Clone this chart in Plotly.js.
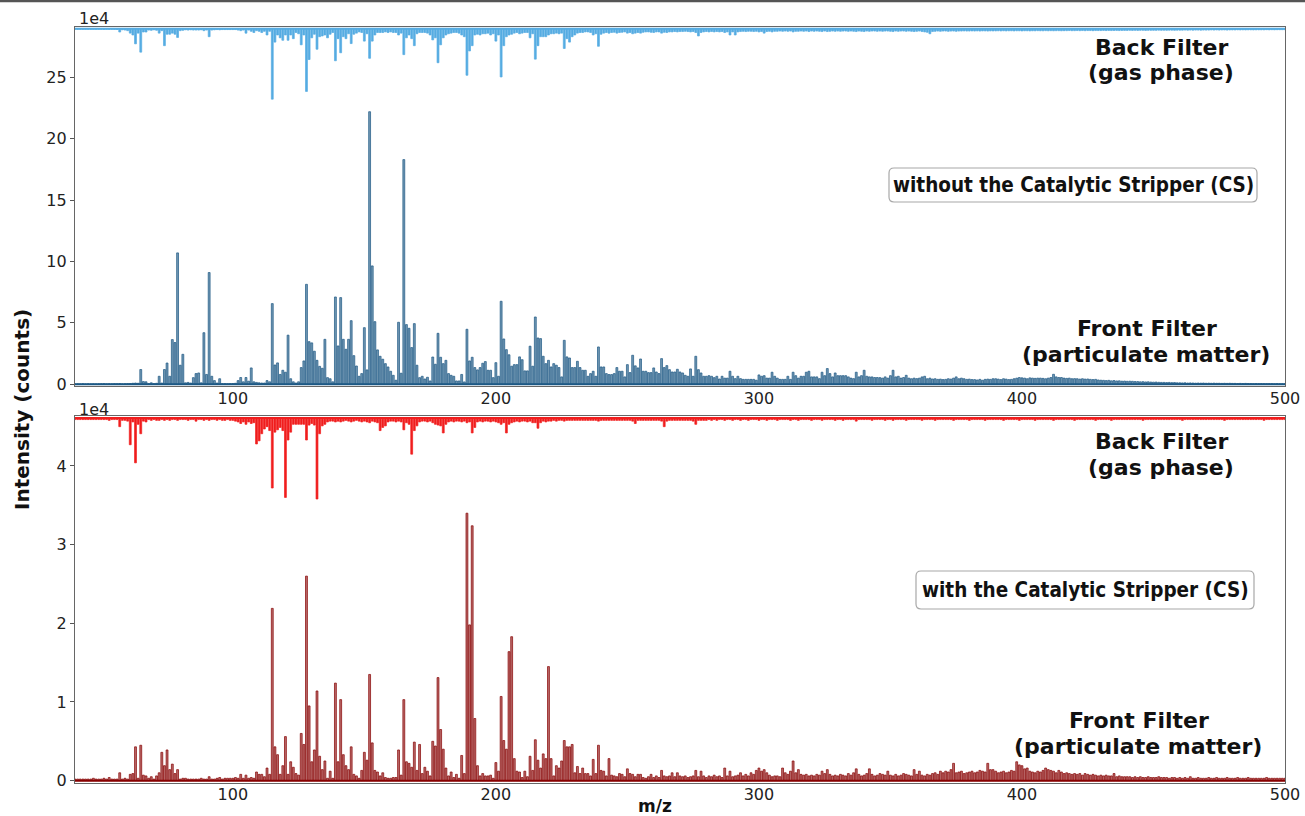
<!DOCTYPE html>
<html>
<head>
<meta charset="utf-8">
<script src="https://cdn.plot.ly/plotly-3.0.1.min.js"></script>
<style>
html,body{margin:0;padding:0;background:#fff;}
#chart{width:1305px;height:816px;}
</style>
</head>
<body>
<div id="chart"></div>
<script>
// m/z axis: integer masses starting at mzStart, one value per unit mass
const mzStart = 40;
const mzEnd = 500;

// Without CS - Front Filter (particulate matter), units of 1e4 counts, m/z 40..500
const withoutFront = [
0.02,0.03,0.02,0.04,0.02,0.03,0.02,0.03,0.02,0.03,
0.04,0.05,0.03,0.04,0.03,0.05,0.04,0.06,0.03,0.04,
0.05,0.06,0.08,0.10,0.08,1.20,0.22,0.20,0.05,0.12,
0.05,0.08,0.65,0.10,1.20,1.73,0.65,3.64,3.40,10.7,
1.55,2.44,0.12,0.15,0.10,0.54,0.87,0.92,0.12,4.20,
0.80,9.10,0.65,0.30,0.10,0.45,0.05,0.05,0.04,0.05,
0.06,0.08,0.30,0.55,0.20,0.55,0.25,1.33,0.20,0.15,
0.12,0.10,0.10,0.30,0.20,6.57,1.57,1.74,0.80,1.14,
0.98,4.00,0.45,0.20,0.10,0.20,1.36,1.90,8.14,3.47,
3.37,2.69,1.95,1.46,1.30,3.66,0.54,0.45,0.20,7.11,
3.12,7.06,3.66,2.85,3.66,5.18,2.33,1.49,0.65,0.87,
4.61,1.17,22.2,9.64,5.10,2.80,2.28,2.04,1.68,1.41,
1.06,0.73,0.33,5.05,0.90,18.3,4.86,4.56,2.99,4.94,
1.55,0.54,0.65,0.43,0.57,0.27,2.22,1.63,4.15,2.20,
1.68,1.95,0.87,0.73,0.65,0.27,0.27,0.80,0.19,4.48,
1.90,2.20,1.36,1.17,1.36,1.71,1.85,1.14,1.14,0.54,
1.76,0.65,6.76,3.69,2.82,2.40,1.47,1.60,1.60,2.23,
2.00,1.09,1.09,3.10,1.47,5.48,3.77,3.72,2.28,1.68,
1.95,1.41,1.68,1.55,1.36,0.60,3.58,2.23,2.14,1.36,
1.36,1.87,1.36,1.14,1.14,0.65,0.87,1.06,0.65,3.04,
1.41,1.41,0.87,0.79,0.79,0.87,1.36,1.06,1.06,0.60,
1.60,0.95,2.36,1.50,1.33,2.06,1.06,1.06,0.95,0.95,
1.33,1.00,0.87,2.09,1.36,1.52,1.19,1.00,1.00,1.22,
1.00,0.92,0.73,0.65,1.25,0.65,2.28,1.19,0.92,0.65,
0.65,0.70,0.65,0.54,0.65,0.43,0.65,0.50,0.50,1.06,
0.65,0.46,0.65,0.46,0.40,0.40,0.40,0.40,0.40,0.33,
0.76,0.65,0.70,0.50,0.50,0.98,0.65,0.50,0.40,0.40,
0.40,0.65,0.40,0.98,0.70,0.50,0.65,0.65,0.98,1.06,
0.60,0.60,0.60,0.46,0.98,0.70,1.28,0.87,0.60,0.92,
0.70,0.70,0.70,0.70,0.60,0.50,0.46,0.98,0.60,0.70,
1.14,0.65,0.60,0.60,0.55,0.55,0.54,0.50,0.60,0.50,
0.70,1.14,0.60,0.65,0.50,0.55,0.73,0.50,0.45,0.50,
0.46,0.50,0.60,0.65,0.45,0.50,0.43,0.45,0.40,0.42,
0.38,0.40,0.45,0.42,0.50,0.60,0.45,0.50,0.45,0.40,
0.42,0.38,0.38,0.35,0.40,0.33,0.40,0.42,0.40,0.45,
0.45,0.42,0.38,0.45,0.42,0.38,0.40,0.45,0.50,0.55,
0.52,0.50,0.45,0.52,0.50,0.48,0.50,0.50,0.48,0.45,
0.50,0.55,0.81,0.60,0.55,0.55,0.50,0.48,0.50,0.45,
0.46,0.45,0.42,0.45,0.42,0.43,0.40,0.38,0.40,0.35,
0.33,0.32,0.30,0.32,0.28,0.30,0.27,0.28,0.25,0.26,
0.24,0.25,0.24,0.22,0.22,0.20,0.21,0.19,0.20,0.18,
0.17,0.18,0.16,0.15,0.15,0.14,0.15,0.13,0.14,0.12,
0.12,0.11,0.12,0.10,0.11,0.10,0.09,0.10,0.09,0.10,
0.08,0.09,0.08,0.09,0.08,0.08,0.07,0.08,0.07,0.08,
0.07,0.07,0.06,0.07,0.06,0.07,0.06,0.06,0.05,0.06,
0.05,0.06,0.05,0.05,0.05,0.05,0.04,0.05,0.04,0.04,
0.04
];

// Without CS - Back Filter (gas phase), drawn hanging from the top
const withoutBack = [
0.03,0.03,0.03,0.03,0.03,0.03,0.03,0.03,0.03,0.03,
0.03,0.04,0.03,0.04,0.03,0.04,0.05,0.26,0.08,0.10,
0.15,0.35,0.50,1.22,0.35,1.90,0.26,0.26,0.10,0.12,
0.08,0.12,0.35,0.15,1.37,0.44,0.44,0.35,0.44,0.70,
0.15,0.12,0.08,0.10,0.08,0.10,0.10,0.10,0.08,0.15,
0.10,0.64,0.10,0.08,0.06,0.08,0.06,0.06,0.06,0.06,
0.06,0.06,0.10,0.15,0.10,0.35,0.10,0.20,0.30,0.15,
0.20,0.30,0.20,0.50,0.20,5.73,1.08,0.50,0.73,0.93,
0.50,0.93,0.50,0.80,0.30,0.40,1.30,0.50,5.10,2.50,
0.73,0.44,1.66,0.64,0.58,0.50,0.73,0.44,0.30,2.60,
0.80,1.95,0.64,0.80,0.40,1.20,0.44,0.35,0.25,0.30,
1.00,0.40,2.40,1.00,0.50,0.30,0.30,0.30,0.25,0.30,
0.25,0.30,0.30,0.50,0.35,2.10,0.73,0.50,0.80,1.37,
0.40,0.30,0.30,0.30,0.35,0.50,0.90,0.73,2.76,1.30,
0.73,0.50,0.40,0.35,0.30,0.30,0.35,0.50,0.64,3.78,
1.80,1.37,0.50,0.44,0.50,0.40,0.40,0.35,0.50,0.40,
1.00,0.50,3.92,1.37,0.64,0.50,0.44,0.35,0.30,0.40,
0.35,0.30,0.30,0.73,0.40,2.47,1.37,0.64,0.64,0.64,
0.50,0.40,0.40,0.35,0.40,0.35,1.60,0.80,1.08,0.64,
0.50,0.35,0.30,0.30,0.25,0.25,0.30,0.50,0.40,1.42,
0.44,0.35,0.30,0.35,0.30,0.28,0.35,0.30,0.28,0.25,
0.35,0.30,0.40,0.35,0.30,0.35,0.28,0.25,0.25,0.28,
0.30,0.25,0.25,0.35,0.28,0.30,0.25,0.25,0.22,0.25,
0.22,0.22,0.20,0.22,0.25,0.22,0.30,0.58,0.30,0.25,
0.22,0.25,0.22,0.25,0.22,0.25,0.22,0.30,0.25,0.50,
0.25,0.50,0.25,0.22,0.20,0.22,0.20,0.20,0.22,0.20,
0.25,0.22,0.35,0.22,0.20,0.25,0.20,0.20,0.18,0.20,
0.18,0.20,0.18,0.25,0.20,0.20,0.18,0.20,0.18,0.22,
0.18,0.20,0.18,0.20,0.22,0.18,0.22,0.20,0.18,0.20,
0.18,0.20,0.18,0.18,0.20,0.18,0.20,0.22,0.18,0.20,
0.22,0.18,0.20,0.18,0.18,0.20,0.18,0.20,0.18,0.18,
0.20,0.22,0.18,0.20,0.18,0.18,0.20,0.18,0.20,0.22,
0.20,0.18,0.22,0.25,0.28,0.40,0.22,0.20,0.18,0.20,
0.18,0.18,0.20,0.18,0.18,0.20,0.18,0.18,0.17,0.18,
0.18,0.17,0.18,0.17,0.18,0.17,0.17,0.18,0.17,0.17,
0.17,0.16,0.17,0.16,0.17,0.16,0.16,0.17,0.16,0.16,
0.17,0.16,0.16,0.17,0.16,0.16,0.15,0.16,0.16,0.15,
0.16,0.15,0.16,0.15,0.15,0.16,0.15,0.15,0.14,0.15,
0.15,0.14,0.15,0.14,0.15,0.14,0.14,0.15,0.14,0.14,
0.14,0.13,0.14,0.13,0.14,0.13,0.13,0.14,0.13,0.13,
0.13,0.12,0.13,0.12,0.13,0.12,0.12,0.13,0.12,0.12,
0.12,0.12,0.11,0.12,0.11,0.12,0.11,0.11,0.12,0.11,
0.11,0.11,0.10,0.11,0.10,0.11,0.10,0.10,0.11,0.10,
0.10,0.10,0.09,0.10,0.09,0.10,0.09,0.09,0.10,0.09,
0.09,0.09,0.08,0.09,0.08,0.09,0.08,0.08,0.09,0.08,
0.08,0.08,0.08,0.07,0.08,0.07,0.08,0.07,0.07,0.07,
0.07
];

// With CS - Front Filter (particulate matter)
const withFront = [
0.02,0.02,0.02,0.02,0.02,0.02,0.02,0.03,0.02,0.02,
0.02,0.03,0.02,0.04,0.02,0.02,0.02,0.10,0.02,0.03,
0.02,0.08,0.09,0.43,0.03,0.45,0.07,0.06,0.03,0.05,
0.02,0.06,0.10,0.36,0.19,0.39,0.14,0.21,0.09,0.14,
0.02,0.03,0.03,0.02,0.02,0.02,0.02,0.02,0.03,0.02,
0.02,0.05,0.02,0.02,0.03,0.04,0.02,0.03,0.03,0.03,
0.03,0.04,0.03,0.08,0.03,0.07,0.03,0.04,0.03,0.11,
0.08,0.08,0.05,0.16,0.08,2.19,0.43,0.33,0.08,0.19,
0.56,0.08,0.24,0.17,0.09,0.07,0.60,0.46,2.60,0.95,
0.24,0.39,1.14,0.31,0.14,0.25,0.03,0.12,0.03,1.24,
0.24,1.03,0.33,0.19,0.14,0.43,0.08,0.06,0.03,0.13,
0.36,0.26,1.35,0.48,0.13,0.11,0.06,0.10,0.04,0.03,
0.03,0.04,0.04,0.39,0.07,1.03,0.24,0.22,0.17,0.49,
0.13,0.46,0.09,0.17,0.12,0.06,0.50,0.44,1.31,0.65,
0.40,0.16,0.06,0.11,0.04,0.08,0.03,0.32,0.09,3.40,
1.98,3.24,0.79,0.19,0.06,0.09,0.06,0.06,0.07,0.03,
0.23,0.12,1.07,0.51,0.40,1.64,1.83,0.28,0.12,0.11,
0.04,0.12,0.05,0.31,0.13,0.52,0.26,0.16,0.34,0.28,
1.45,0.28,0.06,0.19,0.16,0.25,0.51,0.43,0.43,0.46,
0.10,0.18,0.09,0.16,0.09,0.09,0.06,0.27,0.09,0.45,
0.13,0.12,0.06,0.28,0.07,0.06,0.05,0.09,0.08,0.05,
0.15,0.09,0.08,0.05,0.08,0.08,0.04,0.03,0.05,0.08,
0.04,0.06,0.04,0.13,0.06,0.05,0.06,0.10,0.05,0.10,
0.06,0.05,0.06,0.04,0.05,0.06,0.13,0.05,0.12,0.06,
0.04,0.06,0.05,0.07,0.05,0.06,0.04,0.16,0.06,0.12,
0.05,0.06,0.07,0.10,0.06,0.08,0.06,0.10,0.08,0.13,
0.16,0.12,0.14,0.10,0.07,0.05,0.06,0.06,0.05,0.16,
0.10,0.08,0.12,0.25,0.10,0.14,0.08,0.07,0.08,0.06,
0.07,0.06,0.08,0.07,0.12,0.09,0.14,0.08,0.06,0.07,
0.06,0.08,0.07,0.06,0.09,0.07,0.10,0.15,0.08,0.06,
0.07,0.09,0.15,0.08,0.06,0.07,0.09,0.08,0.07,0.12,
0.07,0.06,0.08,0.06,0.07,0.09,0.08,0.07,0.06,0.14,
0.08,0.12,0.07,0.06,0.08,0.07,0.09,0.10,0.08,0.12,
0.10,0.12,0.11,0.14,0.22,0.10,0.11,0.12,0.09,0.10,
0.11,0.12,0.10,0.11,0.13,0.12,0.11,0.22,0.14,0.14,
0.12,0.10,0.11,0.12,0.10,0.11,0.13,0.12,0.24,0.20,
0.19,0.15,0.16,0.12,0.11,0.10,0.12,0.11,0.13,0.16,
0.14,0.13,0.12,0.10,0.13,0.11,0.09,0.10,0.09,0.08,
0.09,0.08,0.09,0.07,0.09,0.08,0.07,0.08,0.07,0.06,
0.07,0.06,0.07,0.06,0.06,0.09,0.05,0.06,0.05,0.05,
0.05,0.05,0.04,0.05,0.04,0.05,0.04,0.04,0.05,0.04,
0.04,0.04,0.05,0.04,0.04,0.04,0.03,0.04,0.04,0.03,
0.04,0.03,0.04,0.03,0.05,0.03,0.03,0.04,0.03,0.03,
0.03,0.04,0.03,0.03,0.04,0.03,0.03,0.03,0.04,0.03,
0.03,0.03,0.04,0.03,0.03,0.03,0.04,0.03,0.03,0.03,
0.03,0.03,0.03,0.04,0.03,0.03,0.03,0.03,0.03,0.03,
0.03
];

// With CS - Back Filter (gas phase), drawn hanging from the top
const withBack = [
0.02,0.02,0.02,0.02,0.02,0.02,0.02,0.02,0.02,0.02,
0.02,0.02,0.02,0.03,0.02,0.02,0.02,0.11,0.03,0.03,
0.04,0.34,0.05,0.57,0.08,0.20,0.04,0.05,0.02,0.03,
0.02,0.03,0.03,0.02,0.03,0.02,0.03,0.02,0.02,0.03,
0.02,0.02,0.02,0.03,0.02,0.02,0.04,0.02,0.02,0.03,
0.02,0.03,0.02,0.02,0.03,0.02,0.03,0.03,0.02,0.03,
0.03,0.04,0.05,0.07,0.05,0.08,0.05,0.07,0.06,0.33,
0.29,0.20,0.14,0.11,0.16,0.89,0.18,0.15,0.12,0.16,
1.01,0.28,0.18,0.08,0.08,0.08,0.08,0.08,0.28,0.09,
0.07,0.09,1.03,0.20,0.10,0.08,0.05,0.04,0.04,0.05,
0.04,0.05,0.04,0.03,0.04,0.05,0.04,0.03,0.04,0.05,
0.04,0.05,0.06,0.04,0.05,0.06,0.16,0.12,0.10,0.05,
0.04,0.04,0.05,0.04,0.05,0.15,0.06,0.08,0.46,0.16,
0.10,0.05,0.04,0.04,0.05,0.04,0.06,0.08,0.09,0.10,
0.19,0.08,0.05,0.04,0.05,0.04,0.04,0.05,0.04,0.06,
0.05,0.19,0.12,0.05,0.04,0.05,0.04,0.04,0.05,0.04,
0.05,0.06,0.08,0.06,0.19,0.08,0.06,0.05,0.04,0.05,
0.04,0.04,0.05,0.04,0.06,0.06,0.13,0.06,0.04,0.05,
0.04,0.04,0.03,0.04,0.03,0.03,0.04,0.03,0.03,0.03,
0.03,0.03,0.03,0.03,0.03,0.03,0.03,0.03,0.03,0.04,
0.03,0.03,0.03,0.03,0.03,0.03,0.03,0.03,0.03,0.03,
0.03,0.03,0.04,0.07,0.03,0.03,0.03,0.03,0.03,0.03,
0.03,0.03,0.03,0.04,0.11,0.04,0.03,0.03,0.03,0.03,
0.03,0.03,0.03,0.03,0.03,0.04,0.08,0.03,0.03,0.03,
0.03,0.02,0.03,0.02,0.03,0.02,0.02,0.03,0.02,0.02,
0.03,0.02,0.02,0.03,0.02,0.02,0.03,0.02,0.02,0.02,
0.03,0.02,0.02,0.03,0.02,0.02,0.02,0.03,0.02,0.02,
0.02,0.02,0.03,0.02,0.02,0.03,0.02,0.02,0.02,0.02,
0.03,0.02,0.02,0.02,0.03,0.02,0.02,0.02,0.02,0.03,
0.02,0.02,0.03,0.02,0.02,0.02,0.02,0.04,0.02,0.02,
0.02,0.02,0.02,0.03,0.02,0.02,0.02,0.02,0.03,0.02,
0.02,0.03,0.02,0.02,0.02,0.02,0.03,0.02,0.02,0.02,
0.02,0.02,0.03,0.02,0.02,0.02,0.02,0.03,0.02,0.02,
0.02,0.02,0.02,0.02,0.03,0.02,0.02,0.02,0.02,0.02,
0.03,0.02,0.02,0.02,0.02,0.02,0.03,0.02,0.02,0.02,
0.02,0.02,0.02,0.03,0.02,0.02,0.02,0.02,0.02,0.03,
0.02,0.02,0.02,0.02,0.02,0.03,0.02,0.02,0.02,0.02,
0.02,0.02,0.03,0.02,0.02,0.02,0.02,0.02,0.02,0.02,
0.03,0.02,0.02,0.02,0.02,0.02,0.02,0.02,0.03,0.02,
0.02,0.02,0.02,0.02,0.03,0.02,0.02,0.02,0.02,0.02,
0.02,0.02,0.02,0.02,0.02,0.02,0.03,0.02,0.02,0.02,
0.02,0.02,0.02,0.02,0.02,0.02,0.02,0.02,0.02,0.02,
0.02,0.03,0.02,0.02,0.02,0.02,0.02,0.02,0.02,0.02,
0.02,0.02,0.02,0.02,0.02,0.02,0.02,0.03,0.02,0.02,
0.02,0.02,0.02,0.02,0.02,0.02,0.02,0.02,0.02,0.02,
0.02,0.02,0.03,0.02,0.02,0.02,0.02,0.02,0.02,0.02,
0.02
];

// Back-filter spectra hang from these levels (units of 1e4)
const topBackLevel = 28.95;
const bottomBackLevel = 4.61;

const xTicks = [100, 200, 300, 400, 500];
const yTicksTop = [0, 5, 10, 15, 20, 25];
const yTicksBottom = [0, 1, 2, 3, 4];

const cDarkBlue = 'rgb(28,88,132)';
const cLightBlue = 'rgb(86,172,226)';
const cDarkRed = 'rgb(135,0,0)';
const cRed = 'rgb(240,30,30)';

function barTrace(vals, xa, ya, fill, edge, baseLevel) {
  const t = {
    type: 'bar', x0: mzStart, dx: 1,
    y: baseLevel === undefined ? vals : vals.map(v => -v),
    xaxis: xa, yaxis: ya, width: 0.72,
    marker: {color: fill, line: {color: edge, width: 0.7}},
    hoverinfo: 'x+y', showlegend: false
  };
  if (baseLevel !== undefined) t.base = baseLevel;
  return t;
}

const traces = [
  barTrace(withoutFront, 'x', 'y', 'rgba(28,88,132,0.62)', cDarkBlue),
  barTrace(withoutBack, 'x', 'y', cLightBlue, cLightBlue, topBackLevel),
  barTrace(withFront, 'x2', 'y2', 'rgba(135,0,0,0.58)', cDarkRed),
  barTrace(withBack, 'x2', 'y2', cRed, cRed, bottomBackLevel)
];

const tickFont = {family: 'DejaVu Sans, sans-serif', size: 16, color: '#222'};
const axBase = {
  showline: true, linecolor: '#666', linewidth: 1.2, mirror: true,
  showgrid: false, zeroline: false, tickfont: tickFont
};
const xAx = Object.assign({}, axBase, {ticks: '', ticklabelstandoff: -3, range: [40, 500], tickvals: xTicks, domain: [0, 1]});
const yAx = Object.assign({}, axBase, {ticks: 'outside', ticklen: 4, tickcolor: '#555', tickwidth: 1});

const labFont = {family: 'DejaVu Sans, sans-serif', size: 22, color: '#111'};
const boxFont = {family: 'DejaVu Sans Condensed, DejaVu Sans, sans-serif', size: 20.5, color: '#111'};

// helpers converting figure pixels to paper coordinates (plot area 75..1285 x 27..783)
const PL = 75, PR = 1285, PT = 27, PB = 783;
function px2x(px) { return (px - PL) / (PR - PL); }
function py2y(py) { return (PB - py) / (PB - PT); }

function pa(text, px, py, font, extra) {
  return Object.assign({xref: 'paper', yref: 'paper', x: px2x(px), y: py2y(py), text: text,
    showarrow: false, font: font, xanchor: 'center', yanchor: 'middle'}, extra || {});
}

function roundBox(x0, y0, x1, y1, r) {
  const X = px2x, Y = py2y;
  const p = 'M ' + X(x0 + r) + ',' + Y(y0) +
    ' L ' + X(x1 - r) + ',' + Y(y0) + ' Q ' + X(x1) + ',' + Y(y0) + ' ' + X(x1) + ',' + Y(y0 + r) +
    ' L ' + X(x1) + ',' + Y(y1 - r) + ' Q ' + X(x1) + ',' + Y(y1) + ' ' + X(x1 - r) + ',' + Y(y1) +
    ' L ' + X(x0 + r) + ',' + Y(y1) + ' Q ' + X(x0) + ',' + Y(y1) + ' ' + X(x0) + ',' + Y(y1 - r) +
    ' L ' + X(x0) + ',' + Y(y0 + r) + ' Q ' + X(x0) + ',' + Y(y0) + ' ' + X(x0 + r) + ',' + Y(y0) + ' Z';
  return {type: 'path', xref: 'paper', yref: 'paper', path: p, fillcolor: '#fff',
          line: {color: '#a8a8a8', width: 1.2}, layer: 'above'};
}

const annotations = [
  pa('1e4', 77, 18, tickFont, {xanchor: 'left'}),
  pa('1e4', 77, 409, tickFont, {xanchor: 'left'}),
  pa('<b>Back Filter</b>', 1161, 47, labFont),
  pa('<b>(gas phase)</b>', 1161, 72, labFont),
  pa('<b>Front Filter</b>', 1147, 329, labFont),
  pa('<b>(particulate matter)</b>', 1146, 354, labFont),
  pa('<b>without the Catalytic Stripper (CS)</b>', 1073, 185, boxFont),
  pa('<b>Back Filter</b>', 1161, 441, labFont),
  pa('<b>(gas phase)</b>', 1161, 467, labFont),
  pa('<b>Front Filter</b>', 1139, 720, labFont),
  pa('<b>(particulate matter)</b>', 1138, 746, labFont),
  pa('<b>with the Catalytic Stripper (CS)</b>', 1085, 590, boxFont),
  pa('<b>Intensity (counts)</b>', 22, 410, {family: 'DejaVu Sans, sans-serif', size: 20, color: '#111'}, {textangle: -90}),
  pa('<b>m/z</b>', 655, 806, {family: 'DejaVu Sans, sans-serif', size: 17, color: '#111'})
];

const shapes = [
  {type: 'line', xref: 'x', yref: 'y', x0: mzStart, x1: mzEnd, y0: 0, y1: 0, line: {color: cDarkBlue, width: 2}},
  {type: 'line', xref: 'x', yref: 'y', x0: mzStart, x1: mzEnd, y0: topBackLevel, y1: topBackLevel, line: {color: cLightBlue, width: 2}},
  {type: 'line', xref: 'x2', yref: 'y2', x0: mzStart, x1: mzEnd, y0: 0, y1: 0, line: {color: cDarkRed, width: 2}},
  {type: 'line', xref: 'x2', yref: 'y2', x0: mzStart, x1: mzEnd, y0: bottomBackLevel, y1: bottomBackLevel, line: {color: cRed, width: 2}},
  {type: 'line', xref: 'paper', yref: 'paper', x0: px2x(0), x1: px2x(1305), y0: py2y(1), y1: py2y(1), line: {color: '#555', width: 2.5}},
  roundBox(889, 168, 1257, 202, 5),
  roundBox(916, 571, 1254, 609, 5)
];

const layout = {
  width: 1305, height: 816,
  margin: {l: 75, r: 20, t: 27, b: 33},
  paper_bgcolor: '#fff', plot_bgcolor: '#fff',
  barmode: 'overlay', bargap: 0,
  showlegend: false,
  xaxis: Object.assign({}, xAx, {anchor: 'y'}),
  yaxis: Object.assign({}, yAx, {domain: [0.525, 1], anchor: 'x', range: [-0.15, 29.1], tickvals: yTicksTop}),
  xaxis2: Object.assign({}, xAx, {anchor: 'y2'}),
  yaxis2: Object.assign({}, yAx, {domain: [0, 0.4854], anchor: 'x2', range: [-0.03, 4.635], tickvals: yTicksBottom}),
  annotations: annotations,
  shapes: shapes
};

Plotly.newPlot('chart', traces, layout, {displayModeBar: false, staticPlot: true});
</script>
</body>
</html>
